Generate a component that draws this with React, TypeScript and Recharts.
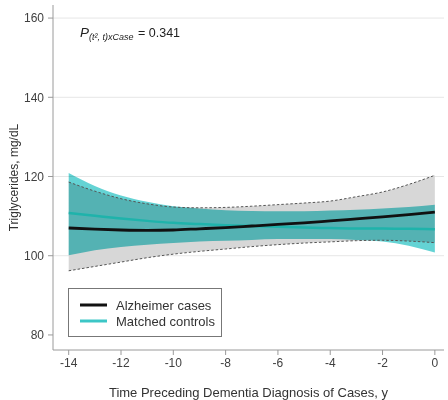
import React from 'react';
import { ComposedChart, Area, Line, XAxis, YAxis, CartesianGrid } from 'recharts';

const years = [-14, -13, -12, -11, -10, -9, -8, -7, -6, -5, -4, -3, -2, -1, 0];
const casesMean = [107.0, 106.7, 106.5, 106.4, 106.5, 106.8, 107.1, 107.5, 107.9, 108.3, 108.8, 109.3, 109.8, 110.4, 111.0];
const casesLower = [96.2, 97.3, 98.4, 99.5, 100.4, 101.1, 101.7, 102.3, 102.8, 103.2, 103.5, 103.8, 103.9, 103.7, 103.3];
const casesUpper = [118.6, 116.3, 114.4, 113.1, 112.3, 112.1, 112.2, 112.5, 112.9, 113.3, 113.8, 114.9, 116.1, 118.0, 120.3];
const controlsMean = [110.8, 110.1, 109.4, 108.8, 108.3, 108.0, 107.7, 107.5, 107.3, 107.1, 107.0, 106.9, 106.9, 106.8, 106.7];
const controlsLower = [100.1, 101.4, 102.2, 102.8, 103.2, 103.6, 103.8, 104.0, 104.2, 104.2, 104.2, 104.0, 103.6, 102.5, 100.8];
const controlsUpper = [120.9, 117.6, 115.2, 113.6, 112.5, 111.9, 111.5, 111.3, 111.2, 111.2, 111.4, 111.6, 111.9, 112.3, 112.9];

const xTicks = [-14, -12, -10, -8, -6, -4, -2, 0];
const yTicks = [80, 100, 120, 140, 160];
const gridValues = [100, 120, 140, 160];

const seriesNames = ['Alzheimer cases', 'Matched controls'];
const xTitle = 'Time Preceding Dementia Diagnosis of Cases, y';
const yTitle = 'Triglycerides, mg/dL';

const data = years.map((year, i) => ({
  year,
  cases: casesMean[i],
  casesLo: casesLower[i],
  casesHi: casesUpper[i],
  casesBand: [casesLower[i], casesUpper[i]],
  controls: controlsMean[i],
  controlsBand: [controlsLower[i], controlsUpper[i]],
}));

const FONT = '"Liberation Sans", Arial, sans-serif';

export default function App() {
  return (
    <div style={{ position: 'absolute', left: 0, top: 0, width: 448, height: 400, background: '#fff', fontFamily: FONT }}>
      <style>{`.teal-band, .teal-band path, .teal-band g { mix-blend-mode: multiply; } .recharts-wrapper svg { isolation: auto; }`}</style>
      <ComposedChart
        width={448}
        height={400}
        data={data}
        margin={{ top: 5, right: 4, bottom: 0, left: 0 }}
        style={{ fontFamily: FONT }}
      >
        <CartesianGrid vertical={false} horizontalValues={gridValues} stroke="#e6e6e6" strokeWidth={1} />
        <XAxis
          dataKey="year"
          type="number"
          domain={[-14.6, 0.35]}
          ticks={xTicks}
          allowDataOverflow
          height={50}
          tickSize={5}
          tickMargin={3}
          stroke="#9a9a9a"
          tick={{ fill: '#404040', fontSize: 12 }}
          label={{ value: xTitle, position: 'insideBottom', offset: 3, fill: '#333', fontSize: 13 }}
        />
        <YAxis
          type="number"
          domain={[76.2, 163.3]}
          ticks={yTicks}
          allowDataOverflow
          width={53}
          tickSize={5}
          tickMargin={4}
          stroke="#9a9a9a"
          tick={{ fill: '#404040', fontSize: 12 }}
          label={{ value: yTitle, angle: -90, position: 'insideLeft', offset: 14, fill: '#333', fontSize: 12, style: { textAnchor: 'middle' } }}
        />
        <Area
          dataKey="casesBand"
          type="monotone"
          fill="#d7d7d7"
          fillOpacity={1}
          stroke="none"
          isAnimationActive={false}
        />
        <Area
          dataKey="controlsBand"
          type="monotone"
          fill="#64d3d4"
          fillOpacity={1}
          stroke="none"
          className="teal-band"
          isAnimationActive={false}
        />
        <Line dataKey="casesLo" type="monotone" stroke="#555" strokeWidth={1} strokeDasharray="2.5 2" dot={false} activeDot={false} isAnimationActive={false} />
        <Line dataKey="casesHi" type="monotone" stroke="#555" strokeWidth={1} strokeDasharray="2.5 2" dot={false} activeDot={false} isAnimationActive={false} />
        <Line dataKey="controls" type="monotone" stroke="#1fb3ab" strokeWidth={2.5} dot={false} activeDot={false} isAnimationActive={false} />
        <Line dataKey="cases" type="monotone" stroke="#111" strokeWidth={2.8} dot={false} activeDot={false} isAnimationActive={false} />
      </ComposedChart>
      <svg width={448} height={400} style={{ position: 'absolute', left: 0, top: 0, pointerEvents: 'none' }}>
        <text x={80} y={37} fontSize={13.5} fontStyle="italic" fill="#222" fontFamily={FONT}>
          P
          <tspan fontSize={9} dy={3}>(t², t)xCase</tspan>
          <tspan x={138} dy={-3} fontSize={12.5} fontStyle="normal">= 0.341</tspan>
        </text>
        <rect x={68.5} y={288.5} width={153} height={48} fill="#fff" stroke="#777" strokeWidth={1} />
        <line x1={80} x2={107} y1={305} y2={305} stroke="#111" strokeWidth={3} />
        <line x1={80} x2={107} y1={321} y2={321} stroke="#3cc6c6" strokeWidth={3} />
        <text x={116} y={310} fontSize={13} fill="#333" fontFamily={FONT}>{seriesNames[0]}</text>
        <text x={116} y={326} fontSize={13} fill="#333" fontFamily={FONT}>{seriesNames[1]}</text>
      </svg>
    </div>
  );
}
